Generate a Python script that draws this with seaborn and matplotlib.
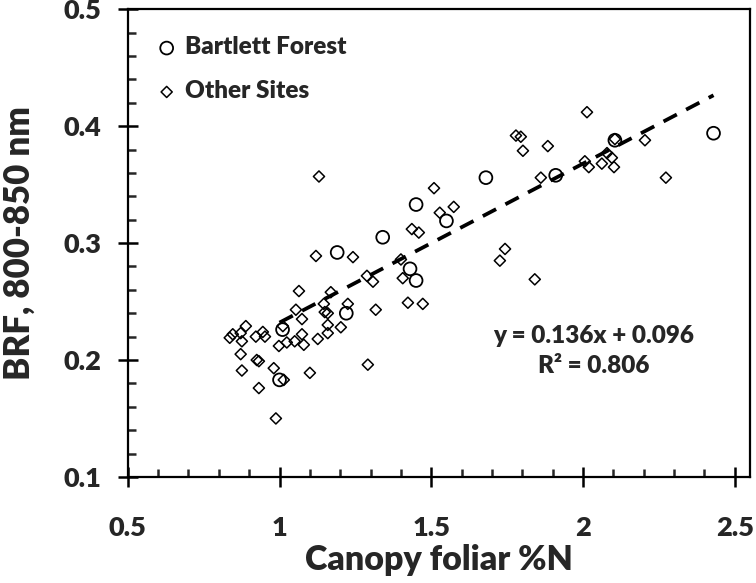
import matplotlib
matplotlib.use("Agg")
import matplotlib.pyplot as plt
from matplotlib.ticker import MultipleLocator
import seaborn as sns
import pandas as pd

# Bartlett Forest plots (circles)
bf_x = [1.00, 1.01, 1.19, 1.22, 1.34, 1.43, 1.45, 1.45, 1.55, 1.68, 1.91, 2.105, 2.43]
bf_y = [0.183, 0.226, 0.292, 0.240, 0.305, 0.278, 0.268, 0.333, 0.319, 0.356, 0.358, 0.388, 0.394]

# other sites (diamonds)
os_x = [0.836, 0.846, 0.872, 0.889, 0.876, 0.872, 0.876, 0.922, 0.945, 0.952,
        0.925, 0.932, 0.932, 0.981, 0.988, 0.998, 1.014, 1.024, 1.011, 1.050,
        1.054, 1.074, 1.074, 1.080, 1.100, 1.126, 1.146, 1.149, 1.159, 1.159,
        1.159, 1.169, 1.202, 1.225, 1.291, 1.317, 1.064, 1.120, 1.242, 1.130,
        1.288, 1.308, 1.400, 1.406, 1.423, 1.472, 1.509, 1.528, 1.574, 1.436,
        1.459, 1.726, 1.743, 1.841, 2.013, 1.779, 1.795, 1.802, 1.884, 1.861,
        2.006, 2.019, 2.062, 2.079, 2.095, 2.102, 2.105, 2.204, 2.273]
os_y = [0.219, 0.222, 0.223, 0.229, 0.216, 0.205, 0.191, 0.220, 0.224, 0.220,
        0.200, 0.199, 0.176, 0.193, 0.150, 0.212, 0.183, 0.215, 0.229, 0.216,
        0.243, 0.235, 0.222, 0.213, 0.189, 0.218, 0.248, 0.241, 0.240, 0.230,
        0.223, 0.258, 0.228, 0.248, 0.196, 0.243, 0.259, 0.289, 0.288, 0.357,
        0.272, 0.267, 0.286, 0.270, 0.249, 0.248, 0.347, 0.326, 0.331, 0.312,
        0.309, 0.285, 0.295, 0.269, 0.412, 0.392, 0.391, 0.379, 0.383, 0.356,
        0.370, 0.365, 0.368, 0.377, 0.373, 0.365, 0.389, 0.388, 0.356]

slope = 0.136
intercept = 0.096
r2 = 0.806

sns.set_style("ticks")
plt.rcParams['font.family'] = ['Lato', 'DejaVu Sans']
plt.rcParams['font.weight'] = 'heavy'
W = 'heavy'

bf = pd.DataFrame({"n": bf_x, "brf": bf_y})
other = pd.DataFrame({"n": os_x, "brf": os_y})

fig = plt.figure(figsize=(7.56, 5.83), dpi=100)
ax = fig.add_axes([0.169, 0.182, 0.823, 0.802])

sns.scatterplot(data=bf, x="n", y="brf", ax=ax, marker="o", s=85, facecolor="none",
                edgecolor="black", linewidth=1.3, label="Bartlett Forest", zorder=3)
sns.scatterplot(data=other, x="n", y="brf", ax=ax, marker="D", s=32, facecolor="none",
                edgecolor="black", linewidth=1.1, label="Other Sites", zorder=3)

# fitted line over the Bartlett Forest range
line_x = [min(bf_x), max(bf_x)]
line_y = [slope * v + intercept for v in line_x]
ax.plot(line_x, line_y, color="black", lw=2.7, dashes=(4, 2.8), zorder=2)

ax.text(2.035, 0.208, f"y = {slope}x + {intercept:.3f}\nR² = {r2}", ha="center",
        va="center", fontsize=17.5, fontweight=W, linespacing=1.45)

ax.set_xlim(0.5, 2.55)
ax.set_ylim(0.1, 0.5)
ax.xaxis.set_minor_locator(MultipleLocator(0.1))
ax.yaxis.set_minor_locator(MultipleLocator(0.02))
ax.set_xticks([0.5, 1, 1.5, 2, 2.5])
ax.set_xticklabels(["0.5", "1", "1.5", "2", "2.5"])
ax.set_yticks([0.1, 0.2, 0.3, 0.4, 0.5])
ax.set_yticklabels(["0.1", "0.2", "0.3", "0.4", "0.5"])

ax.tick_params(axis="both", which="major", direction="inout", length=14, width=1.8,
               labelsize=19.5, color="black")
ax.tick_params(axis="both", which="minor", direction="in", length=6, width=1.8)
ax.tick_params(axis="x", which="major", pad=21)
ax.tick_params(axis="y", which="major", pad=12)
for lab in ax.get_xticklabels() + ax.get_yticklabels():
    lab.set_fontweight(W)

for sp in ax.spines.values():
    sp.set_visible(True)
    sp.set_linewidth(1.6)
    sp.set_color("black")

ax.set_xlabel("Canopy foliar %N", fontsize=24.5, fontweight=W, labelpad=3)
ax.set_ylabel("BRF, 800-850 nm", fontsize=25, fontweight=W, labelpad=20)

ax.legend(loc="upper left", bbox_to_anchor=(0.043, 0.942), frameon=False,
          fontsize=17.5, handlelength=1.0, handletextpad=0.25, labelspacing=0.9,
          borderaxespad=0, borderpad=0, markerscale=1.0)

fig.savefig("out.png", dpi=100)
